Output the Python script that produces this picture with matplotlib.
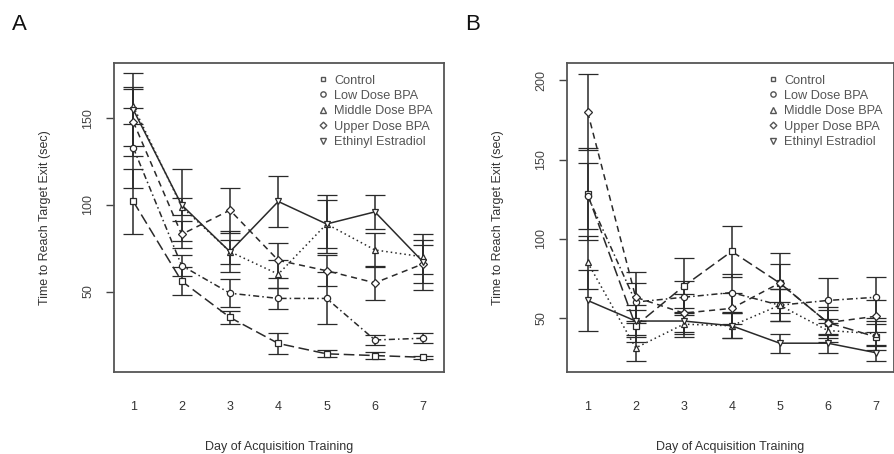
import matplotlib
matplotlib.use("Agg")
import matplotlib.pyplot as plt
from matplotlib.lines import Line2D
import numpy as np

plt.rcParams['font.family'] = ['Liberation Sans', 'DejaVu Sans']

days = [1, 2, 3, 4, 5, 6, 7]
groups = ["Control", "Low Dose BPA", "Middle Dose BPA", "Upper Dose BPA", "Ethinyl Estradiol"]

# Panel A means and SEM
a_control = [102, 56, 35, 20, 14, 13, 12]
a_low = [133, 65, 49, 46, 46, 22, 23]
a_middle = [157, 99, 73, 60, 89, 74, 70]
a_upper = [148, 83, 97, 68, 62, 55, 66]
a_ee = [155, 100, 73, 102, 89, 96, 67]
a_control_se = [19, 8, 4, 6, 2, 2, 1]
a_low_se = [23, 6, 8, 6, 15, 3, 3]
a_middle_se = [10, 5, 7, 8, 14, 10, 10]
a_upper_se = [20, 8, 13, 10, 9, 10, 11]
a_ee_se = [21, 21, 12, 15, 17, 10, 16]

# Panel B means and SEM
b_control = [128, 45, 70, 92, 72, 47, 38]
b_low = [127, 60, 63, 66, 58, 61, 63]
b_middle = [85, 31, 46, 45, 58, 42, 40]
b_upper = [180, 63, 53, 56, 72, 47, 51]
b_ee = [61, 48, 48, 45, 34, 34, 28]
b_control_se = [29, 10, 18, 16, 12, 8, 8]
b_low_se = [21, 12, 10, 12, 10, 14, 13]
b_middle_se = [17, 8, 8, 8, 10, 7, 8]
b_upper_se = [24, 16, 12, 10, 19, 10, 10]
b_ee_se = [19, 10, 8, 8, 6, 6, 5]

markers = ['s', 'o', '^', 'D', 'v']
msizes = [4, 4.5, 4.5, 4, 4.5]
linestyles = [(0, (7, 3)), (0, (4, 2, 1, 2)), (0, (1, 2)), (0, (4, 3)), '-']

W, H = 895, 454
fig = plt.figure(figsize=(W / 100, H / 100), dpi=100)
axA = fig.add_axes([114 / W, (H - 372) / H, 330 / W, 309 / H])
axB = fig.add_axes([567 / W, (H - 372) / H, 327 / W, 309 / H])

panels = [
    (axA, [a_control, a_low, a_middle, a_upper, a_ee],
     [a_control_se, a_low_se, a_middle_se, a_upper_se, a_ee_se],
     (0.6, 7.43), (3.5, 182), [50, 100, 150], 'A', 19),
    (axB, [b_control, b_low, b_middle, b_upper, b_ee],
     [b_control_se, b_low_se, b_middle_se, b_upper_se, b_ee_se],
     (0.57, 7.38), (15.8, 211), [50, 100, 150, 200], 'B', 473),
]

ink = '#2a2a2a'
for ax, means, ses, xl, yl, yt, lab, lx in panels:
    for i, (m, s) in enumerate(zip(means, ses)):
        ax.errorbar(days, m, yerr=s, color=ink, ecolor=ink, elinewidth=1.1,
                    capsize=7.5, capthick=1.1, linestyle=linestyles[i], linewidth=1.1,
                    marker=markers[i], markersize=msizes[i], markerfacecolor='white',
                    markeredgecolor=ink, markeredgewidth=0.9)
    ax.set_xlim(*xl)
    ax.set_ylim(*yl)
    ax.set_xticks(days)
    ax.set_yticks(yt)
    ax.tick_params(axis='x', length=0, pad=21, labelsize=9, colors='#333333')
    ax.tick_params(axis='y', length=6, width=1, pad=8, labelsize=9, colors='#444444')
    for t in ax.get_yticklabels():
        t.set_rotation(90)
        t.set_va('center')
    for sp in ax.spines.values():
        sp.set_color('#555555')
        sp.set_linewidth(1.3)
    ax.set_xlabel('Day of Acquisition Training', fontsize=9, color='#333333', labelpad=20)
    ax.set_ylabel('Time to Reach Target Exit (sec)', fontsize=9, color='#333333', labelpad=23)
    handles = [Line2D([], [], linestyle='none', marker=markers[i], markersize=msizes[i] * 0.85,
                      markerfacecolor='white', markeredgecolor='#555555', markeredgewidth=1.0)
               for i in range(len(groups))]
    leg = ax.legend(handles, groups, loc='upper right', frameon=False, fontsize=9.2,
                    handlelength=0.8, handletextpad=0.5, labelspacing=0.27,
                    borderaxespad=0.4, borderpad=0.5)
    for t in leg.get_texts():
        t.set_color('#555555')
    fig.text(lx / W, 1 - 24 / H, lab, fontsize=16, ha='center', va='center', color='#111111')

fig.savefig('out.png', dpi=100)
